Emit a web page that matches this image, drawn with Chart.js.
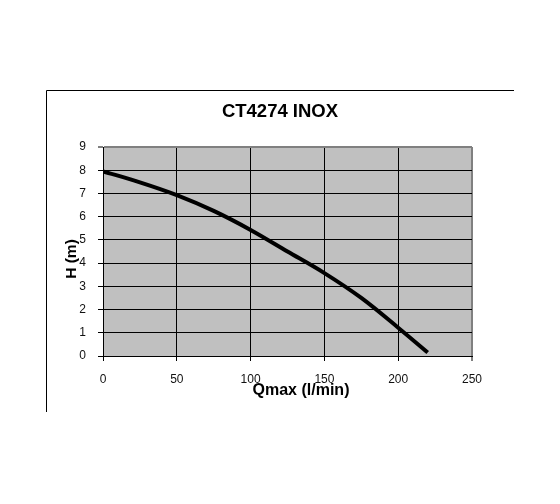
<!DOCTYPE html>
<html>
<head>
<meta charset="utf-8">
<script src="https://cdn.jsdelivr.net/npm/chart.js@4/dist/chart.umd.min.js"></script>
<style>
  html, body { margin: 0; padding: 0; background: #fff; }
  canvas { display: block; }
</style>
</head>
<body>
<canvas id="pump" width="560" height="504"></canvas>
<script>
// pump curve
const flow = [0, 25, 50, 75, 100, 125, 150, 175, 200, 220];
const head = [7.95, 7.48, 6.93, 6.25, 5.43, 4.5, 3.57, 2.5, 1.22, 0.15];
const xTicks = [0, 50, 100, 150, 200, 250];
const yTicks = [0, 1, 2, 3, 4, 5, 6, 7, 8, 9];

const chartTitle = 'CT4274 INOX';
const xTitle = 'Qmax (l/min)';
const yTitle = 'H (m)';

const FONT = '"Liberation Sans", Arial, sans-serif';

// grey plot background, outer frame lines and the hand placed titles
const decor = {
    id: 'decor',
    beforeDraw(chart) {
        const { ctx, chartArea } = chart;
        ctx.save();
        ctx.fillStyle = '#c0c0c0';
        ctx.fillRect(chartArea.left, chartArea.top,
            chartArea.right - chartArea.left, chartArea.bottom - chartArea.top);
        ctx.restore();
    },
    afterDraw(chart) {
        const { ctx } = chart;
        ctx.save();
        ctx.strokeStyle = '#000';
        ctx.lineWidth = 1;
        ctx.beginPath();
        ctx.moveTo(46.5, 412);
        ctx.lineTo(46.5, 90.5);
        ctx.lineTo(514, 90.5);
        ctx.stroke();

        ctx.fillStyle = '#000';
        ctx.textAlign = 'center';
        ctx.textBaseline = 'middle';
        ctx.font = 'bold 18.5px ' + FONT;
        ctx.fillText(chartTitle, 280, 112);

        ctx.font = 'bold 16px ' + FONT;
        ctx.fillText(xTitle, 301, 391);

        ctx.font = 'bold 15.5px ' + FONT;
        ctx.translate(72, 259);
        ctx.rotate(-Math.PI / 2);
        ctx.fillText(yTitle, 0, 0);
        ctx.restore();
    }
};

new Chart(document.getElementById('pump'), {
    type: 'line',
    data: {
        datasets: [{
            data: flow.map((q, i) => ({ x: q, y: head[i] })),
            borderColor: '#000',
            borderWidth: 4,
            pointRadius: 0,
            cubicInterpolationMode: 'monotone',
            fill: false
        }]
    },
    options: {
        responsive: false,
        animation: false,
        devicePixelRatio: 1,
        layout: { padding: { top: 147, right: 88, bottom: 0, left: 0 } },
        plugins: {
            legend: { display: false },
            title: { display: false },
            tooltip: { enabled: false }
        },
        scales: {
            x: {
                type: 'linear',
                min: 0,
                max: 250,
                afterFit(scale) { scale.height = 148; },
                afterBuildTicks(scale) { scale.ticks = xTicks.map(v => ({ value: v })); },
                border: { color: '#000', width: 1 },
                grid: {
                    color: c => c.tick && c.tick.value === 250 ? '#808080' : '#000',
                    lineWidth: c => c.tick && c.tick.value === 250 ? 2 : 1,
                    tickColor: '#000',
                    tickLength: 5,
                    tickWidth: 1
                },
                ticks: {
                    color: '#111',
                    padding: 11,
                    maxRotation: 0,
                    font: { family: FONT, size: 12 }
                }
            },
            y: {
                min: 0,
                max: 9,
                afterFit(scale) { scale.width = 103; },
                afterBuildTicks(scale) { scale.ticks = yTicks.map(v => ({ value: v })); },
                border: { color: '#000', width: 1 },
                grid: {
                    color: c => c.tick && c.tick.value === 9 ? '#808080' : '#000',
                    lineWidth: c => c.tick && c.tick.value === 9 ? 2 : 1,
                    tickColor: '#000',
                    tickLength: 5,
                    tickWidth: 1
                },
                ticks: {
                    color: '#111',
                    padding: 12,
                    font: { family: FONT, size: 12 }
                }
            }
        }
    },
    plugins: [decor]
});
</script>
</body>
</html>
